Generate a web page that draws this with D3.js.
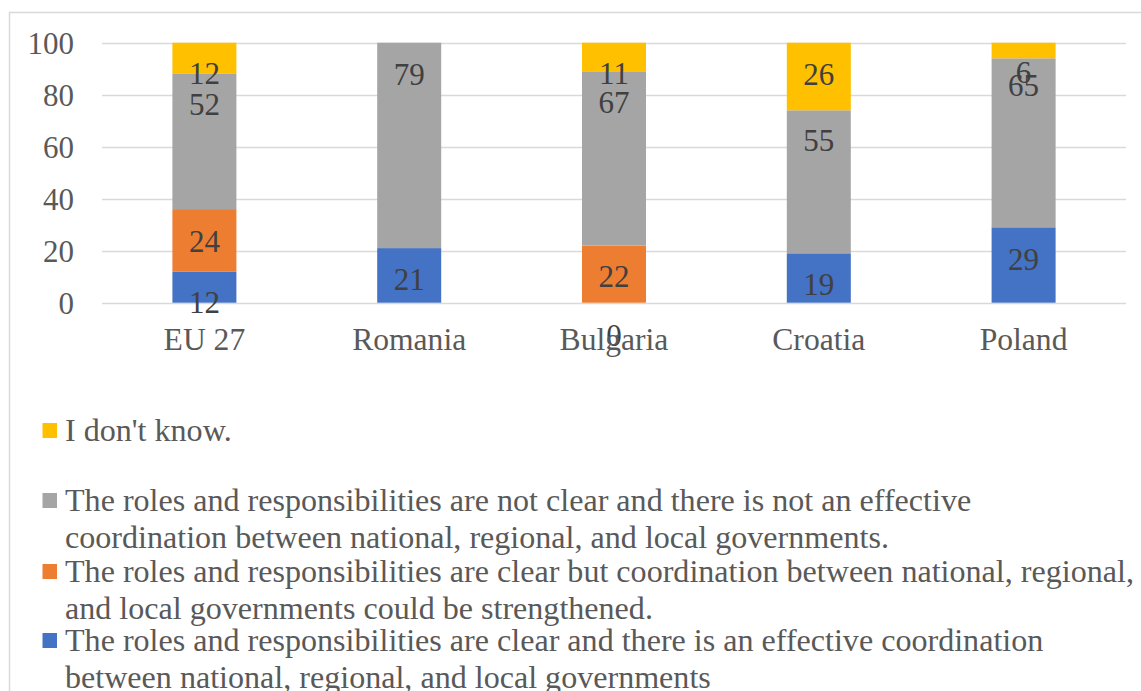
<!DOCTYPE html>
<html>
<head>
<meta charset="utf-8">
<script src="https://cdn.jsdelivr.net/npm/d3@7"></script>
<style>
  html, body { margin: 0; padding: 0; background: #fff; }
  svg { display: block; font-family: "Liberation Serif", "Times New Roman", serif; }
</style>
</head>
<body>
<svg id="chart" width="1141" height="691"></svg>
<script>
// ---- data ----
const categories = ["EU 27", "Romania", "Bulgaria", "Croatia", "Poland"];
const effective = [12, 21, 0, 19, 29];          // blue
const strengthen = [24, null, 22, null, null];   // orange
const notClear = [52, 79, 67, 55, 65];           // gray
const dontKnow = [12, null, 11, 26, 6];          // yellow
const yTicks = [0, 20, 40, 60, 80, 100];
// where each data label sits (value units)
const effectiveLabelAt = [0.1, 9.1, -12.4, 7.1, 16.9];
const strengthenLabelAt = [23.8, null, 10.4, null, null];
const notClearLabelAt = [76.3, 88, 77.1, 62.4, 83.6];
const dontKnowLabelAt = [88.2, null, 88.2, 88, 88.7];

const series = [
  { name: "The roles and responsibilities are clear and there is an effective coordination between national, regional, and local governments",
    values: effective, labelAt: effectiveLabelAt, color: "#4472C4",
    legendLines: ["The roles and responsibilities are clear and there is an effective coordination", "between national, regional, and local governments"] },
  { name: "The roles and responsibilities are clear but coordination between national, regional, and local governments could be strengthened.",
    values: strengthen, labelAt: strengthenLabelAt, color: "#ED7D31",
    legendLines: ["The roles and responsibilities are clear but coordination between national, regional,", "and local governments could be strengthened."] },
  { name: "The roles and responsibilities are not clear and there is not an effective coordination between national, regional, and local governments.",
    values: notClear, labelAt: notClearLabelAt, color: "#A5A5A5",
    legendLines: ["The roles and responsibilities are not clear and there is not an effective", "coordination between national, regional, and local governments."] },
  { name: "I don't know.", values: dontKnow, labelAt: dontKnowLabelAt, color: "#FFC000",
    legendLines: ["I don't know."] }
];

const svg = d3.select("#chart");

// chart frame
svg.append("path")
  .attr("d", "M9.5,691 V12.5 H1141")
  .attr("fill", "none").attr("stroke", "#d9d9d9").attr("stroke-width", 1.5);

const x = d3.scaleBand().domain(categories).range([102, 1126]).paddingInner(0.6875).paddingOuter(0.34375);
const y = d3.scaleLinear().domain([0, 100]).range([302.7, 42.7]);

// gridlines
svg.append("g").selectAll("line").data(yTicks).join("line")
  .attr("x1", 102).attr("x2", 1126)
  .attr("y1", d => Math.round(y(d)) + 0.5).attr("y2", d => Math.round(y(d)) + 0.5)
  .attr("stroke", "#d9d9d9").attr("stroke-width", 1.5);

// y tick labels
svg.append("g").selectAll("text").data(yTicks).join("text")
  .attr("x", 74).attr("y", d => y(d))
  .attr("dy", "0.35em")
  .attr("text-anchor", "end")
  .attr("font-size", 31).attr("fill", "#595959")
  .text(d => d);

// stacking
const rows = categories.map((c, i) => {
  const r = { cat: c };
  series.forEach((s, k) => r["s" + k] = s.values[i] == null ? 0 : s.values[i]);
  return r;
});
const stack = d3.stack().keys(series.map((s, k) => "s" + k));
const stacked = stack(rows);

const barsG = svg.append("g");
stacked.forEach((layer, k) => {
  barsG.append("g").attr("fill", series[k].color)
    .selectAll("rect").data(layer).join("rect")
    .attr("x", d => x(d.data.cat))
    .attr("width", x.bandwidth())
    .attr("y", d => y(Math.min(100, d[1])))
    .attr("height", d => Math.max(0, y(d[0]) - y(Math.min(100, d[1]))));
});

// data labels
const labelsG = svg.append("g");
series.forEach((s, k) => {
  const items = categories.map((c, i) => ({ cat: c, v: s.values[i], at: s.labelAt[i] }))
    .filter(d => d.v != null);
  labelsG.append("g").selectAll("text").data(items).join("text")
    .attr("x", d => x(d.cat) + x.bandwidth() / 2)
    .attr("y", d => y(d.at))
    .attr("dy", "0.35em")
    .attr("text-anchor", "middle")
    .attr("font-size", 31).attr("fill", "#404040")
    .text(d => d.v);
});

// x axis labels
svg.append("g").selectAll("text").data(categories).join("text")
  .attr("x", d => x(d) + x.bandwidth() / 2)
  .attr("y", 350)
  .attr("text-anchor", "middle")
  .attr("font-size", 31.6).attr("fill", "#595959")
  .text(d => d);

// legend (reverse order, as in the picture)
const legendOrder = [3, 2, 1, 0];
const legendBaselines = [441, 511, 582, 651];
const legendG = svg.append("g");
legendOrder.forEach((k, j) => {
  const s = series[k];
  const base = legendBaselines[j];
  legendG.append("rect")
    .attr("x", 42.5).attr("y", base - 18).attr("width", 14.5).attr("height", 15)
    .attr("fill", s.color);
  s.legendLines.forEach((line, li) => {
    legendG.append("text")
      .attr("x", 65).attr("y", base + li * 36.5)
      .attr("font-size", 32.1).attr("fill", "#595959")
      .text(line);
  });
});
</script>
</body>
</html>
